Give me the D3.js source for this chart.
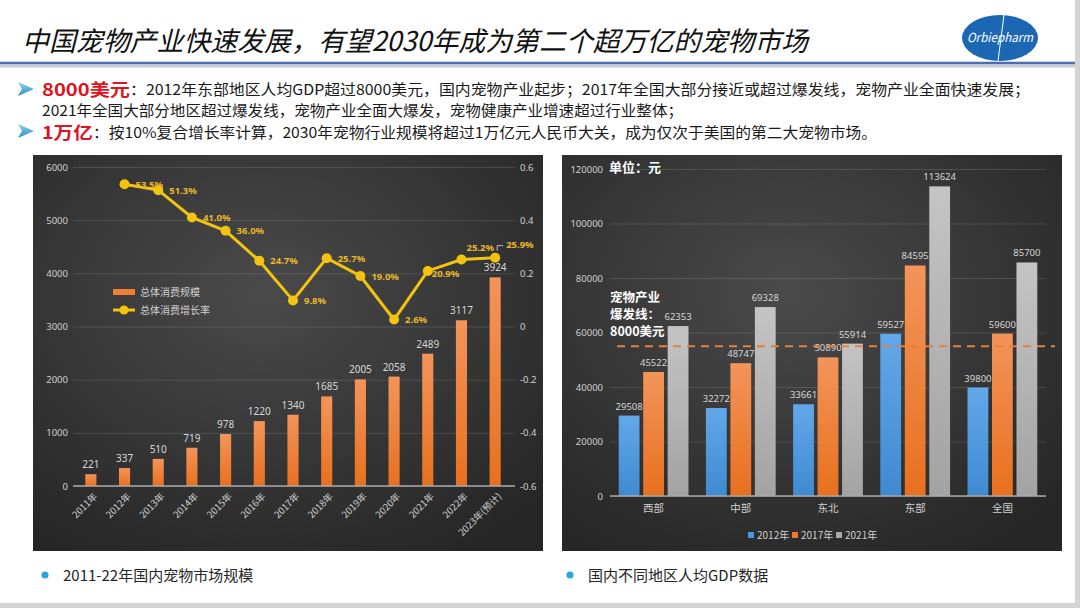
<!DOCTYPE html>
<html>
<head>
<meta charset="utf-8">
<script src="https://cdn.jsdelivr.net/npm/d3@7"></script>
<style>
body { margin: 0; background: #fff; }
text { font-family: "Noto Sans CJK SC", "Noto Sans", sans-serif; }
</style>
</head>
<body>
<div id="slide"></div>
<script>
width = 1080;
height = 608;

// left chart data: market size (亿元) and growth rate
var years = ["2011年","2012年","2013年","2014年","2015年","2016年","2017年","2018年","2019年","2020年","2021年","2022年","2023年(预计)"];
var marketSize = [221, 337, 510, 719, 978, 1220, 1340, 1685, 2005, 2058, 2489, 3117, 3924];
var growthRate = [null, 0.535, 0.513, 0.410, 0.360, 0.247, 0.098, 0.257, 0.190, 0.026, 0.209, 0.252, 0.259];
var sizeTicks = [0, 1000, 2000, 3000, 4000, 5000, 6000];
var rateTicks = [-0.6, -0.4, -0.2, 0, 0.2, 0.4, 0.6];

// right chart data: GDP per capita by region (元)
var regions = ["西部", "中部", "东北", "东部", "全国"];
var gdpYears = ["2012年", "2017年", "2021年"];
var gdp2012 = [29508, 32272, 33661, 59527, 39800];
var gdp2017 = [45522, 48747, 50890, 84595, 59600];
var gdp2021 = [62353, 69328, 55914, 113624, 85700];
var gdpTicks = [0, 20000, 40000, 60000, 80000, 100000, 120000];
var burstLine = 55000;

var svg = d3.select("#slide")
    .append("svg")
    .attr("width", width)
    .attr("height", height);

var defs = svg.append("defs");

// slide frame
svg.append("rect").attr("width", width).attr("height", height).attr("fill", "#d4d4d4");
svg.append("rect").attr("width", 1075).attr("height", 603).attr("fill", "#ffffff");

// gradients
function linGrad(id, top, bottom) {
    var g = defs.append("linearGradient").attr("id", id)
        .attr("x1", 0).attr("y1", 0).attr("x2", 0).attr("y2", 1);
    g.append("stop").attr("offset", "0%").attr("stop-color", top);
    g.append("stop").attr("offset", "100%").attr("stop-color", bottom);
}
linGrad("gOrange", "#f3945a", "#e8701f");
linGrad("gBlue", "#62a8ea", "#3f8ad0");
linGrad("gGray", "#c4c4c4", "#a3a3a3");
linGrad("gArrow", "#8fd3f0", "#2a8cc4");

var bg = defs.append("radialGradient").attr("id", "gPanel")
    .attr("cx", "45%").attr("cy", "35%").attr("r", "75%");
bg.append("stop").attr("offset", "0%").attr("stop-color", "#4a4a4a");
bg.append("stop").attr("offset", "100%").attr("stop-color", "#262626");

// ---------- header ----------
svg.append("text")
    .attr("x", 22).attr("y", 51)
    .attr("font-size", 27)
    .attr("font-style", "italic")
    .attr("fill", "#111")
    .attr("textLength", 786)
    .attr("lengthAdjust", "spacingAndGlyphs")
    .text("中国宠物产业快速发展，有望2030年成为第二个超万亿的宠物市场");

svg.append("line").attr("x1", 0).attr("x2", 1075).attr("y1", 66).attr("y2", 66)
    .attr("stroke", "#c8cbd2").attr("stroke-width", 3);
svg.append("line").attr("x1", 0).attr("x2", 1075).attr("y1", 63).attr("y2", 63)
    .attr("stroke", "#4a6db3").attr("stroke-width", 2.5);

// logo
var logo = svg.append("g").attr("transform", "translate(1000,38)");
logo.append("ellipse").attr("rx", 38).attr("ry", 23).attr("fill", "#1c67b4");
logo.append("line").attr("x1", 4).attr("y1", -23).attr("x2", -2).attr("y2", 23)
    .attr("stroke", "#ffffff").attr("stroke-width", 1);
logo.append("text").attr("x", 0).attr("y", 4)
    .attr("text-anchor", "middle")
    .attr("font-size", 12.5)
    .attr("font-style", "italic")
    .attr("fill", "#ffffff")
    .attr("textLength", 66)
    .attr("lengthAdjust", "spacingAndGlyphs")
    .text("Orbiepharm");

// bullet text
function arrow(cy) {
    svg.append("path")
        .attr("d", "M18," + (cy - 7) + " L34," + cy + " L18," + (cy + 7) + " L22," + cy + " Z")
        .attr("fill", "url(#gArrow)");
}
arrow(89);
arrow(131);

svg.append("text").attr("x", 42).attr("y", 96)
    .attr("font-size", 17).attr("font-weight", "bold").attr("fill", "#e0141e")
    .attr("textLength", 88).attr("lengthAdjust", "spacingAndGlyphs")
    .text("8000美元");
svg.append("text").attr("x", 130).attr("y", 95)
    .attr("font-size", 15).attr("fill", "#1a1a1a")
    .attr("textLength", 900).attr("lengthAdjust", "spacingAndGlyphs")
    .text("：2012年东部地区人均GDP超过8000美元，国内宠物产业起步；2017年全国大部分接近或超过爆发线，宠物产业全面快速发展；");
svg.append("text").attr("x", 42).attr("y", 116)
    .attr("font-size", 15).attr("fill", "#1a1a1a")
    .attr("textLength", 641).attr("lengthAdjust", "spacingAndGlyphs")
    .text("2021年全国大部分地区超过爆发线，宠物产业全面大爆发，宠物健康产业增速超过行业整体；");
svg.append("text").attr("x", 42).attr("y", 139)
    .attr("font-size", 17).attr("font-weight", "bold").attr("fill", "#e0141e")
    .attr("textLength", 51).attr("lengthAdjust", "spacingAndGlyphs")
    .text("1万亿");
svg.append("text").attr("x", 93).attr("y", 138)
    .attr("font-size", 15).attr("fill", "#1a1a1a")
    .attr("textLength", 784).attr("lengthAdjust", "spacingAndGlyphs")
    .text("：按10%复合增长率计算，2030年宠物行业规模将超过1万亿元人民币大关，成为仅次于美国的第二大宠物市场。");

// ---------- left chart ----------
svg.append("rect").attr("x", 33).attr("y", 155).attr("width", 510).attr("height", 396)
    .attr("fill", "url(#gPanel)");

var x = d3.scaleBand().domain(years).range([74, 512]).paddingInner(0.67).paddingOuter(0.335);
var ySize = d3.scaleLinear().domain([0, 6000]).range([486, 167]);
var yRate = d3.scaleLinear().domain([-0.6, 0.6]).range([486, 167]);

var left = svg.append("g");

left.append("g")
    .attr("transform", "translate(73,0)")
    .call(d3.axisLeft(ySize).tickValues(sizeTicks).tickSize(-442).tickPadding(5).tickFormat(d => String(d)))
    .call(g => g.select(".domain").remove())
    .call(g => g.selectAll("line").attr("stroke", "#ffffff").attr("stroke-opacity", 0.13))
    .call(g => g.selectAll("text").attr("fill", "#d0d0d0").attr("font-size", 9.5)
        .style("font-family", "'Noto Sans', sans-serif"));

left.append("g")
    .attr("transform", "translate(515,0)")
    .call(d3.axisRight(yRate).tickValues(rateTicks).tickSize(0).tickPadding(5).tickFormat(d => String(d)))
    .call(g => g.select(".domain").remove())
    .call(g => g.selectAll("text").attr("fill", "#d0d0d0").attr("font-size", 9.5)
        .style("font-family", "'Noto Sans', sans-serif"));

left.selectAll("rect.bar")
    .data(marketSize)
    .enter()
    .append("rect")
    .attr("class", "bar")
    .attr("x", (d, i) => x(years[i]))
    .attr("y", d => ySize(d))
    .attr("width", x.bandwidth())
    .attr("height", d => ySize(0) - ySize(d))
    .attr("fill", "url(#gOrange)");

left.append("line")
    .attr("x1", 73).attr("x2", 515).attr("y1", ySize(0)).attr("y2", ySize(0))
    .attr("stroke", "#a8a8a8").attr("stroke-width", 1.5);

left.selectAll("text.barlabel")
    .data(marketSize)
    .enter()
    .append("text")
    .attr("class", "barlabel")
    .attr("x", (d, i) => x(years[i]) + x.bandwidth() / 2)
    .attr("y", d => ySize(d) - 6)
    .attr("text-anchor", "middle")
    .attr("font-size", 10)
    .attr("fill", "#d6d6d6")
    .style("font-family", "'Noto Sans', sans-serif")
    .text(d => d);

left.selectAll("text.cat")
    .data(years)
    .enter()
    .append("text")
    .attr("class", "cat")
    .attr("text-anchor", "end")
    .attr("font-size", 9.5)
    .attr("fill", "#d0d0d0")
    .attr("transform", d => "translate(" + (x(d) + x.bandwidth() / 2 + 7) + ",497) rotate(-45)")
    .text(d => d);

// growth line
var cx = (d, i) => x(years[i]) + x.bandwidth() / 2;
var rateLine = d3.line()
    .defined(d => d != null)
    .x((d, i) => cx(d, i))
    .y(d => yRate(d));

left.append("path")
    .datum(growthRate)
    .attr("d", rateLine)
    .attr("fill", "none")
    .attr("stroke", "#f2c30f")
    .attr("stroke-width", 3);

var ratePts = growthRate.map((d, i) => ({ v: d, i: i })).filter(d => d.v != null);

left.selectAll("circle.pt")
    .data(ratePts)
    .enter()
    .append("circle")
    .attr("class", "pt")
    .attr("cx", d => cx(d.v, d.i))
    .attr("cy", d => yRate(d.v))
    .attr("r", 5)
    .attr("fill", "#f2c30f");

function labelOffset(i) {
    if (i == 11) return [5, -11];
    if (i == 12) return [11, -12];
    if (i == 10) return [4, 3];
    return [11, 1];
}

left.selectAll("text.rate")
    .data(ratePts)
    .enter()
    .append("text")
    .attr("class", "rate")
    .attr("x", d => cx(d.v, d.i) + labelOffset(d.i)[0])
    .attr("y", d => yRate(d.v) + labelOffset(d.i)[1])
    .attr("dominant-baseline", "middle")
    .attr("font-size", 9.5)
    .attr("font-weight", "bold")
    .attr("fill", "#e9b92a")
    .style("font-family", "'Noto Sans', sans-serif")
    .text(d => d3.format(".1%")(d.v));

// leader line for last label
var lastX = cx(growthRate[12], 12), lastY = yRate(growthRate[12]);
left.append("path")
    .attr("d", "M" + (lastX + 2) + "," + (lastY - 7) + " L" + (lastX + 2) + "," + (lastY - 12) + " L" + (lastX + 8) + "," + (lastY - 12))
    .attr("fill", "none").attr("stroke", "#bfbfbf").attr("stroke-width", 1);

// legend
var lg = left.append("g").attr("transform", "translate(113,289)");
lg.append("rect").attr("width", 22).attr("height", 6).attr("fill", "#ef7f35");
lg.append("text").attr("x", 27).attr("y", 7).attr("font-size", 10).attr("fill", "#d0d0d0").text("总体消费规模");
lg.append("line").attr("x1", 0).attr("x2", 22).attr("y1", 21).attr("y2", 21)
    .attr("stroke", "#f2c30f").attr("stroke-width", 3);
lg.append("circle").attr("cx", 11).attr("cy", 21).attr("r", 4.5).attr("fill", "#f2c30f");
lg.append("text").attr("x", 27).attr("y", 25).attr("font-size", 10).attr("fill", "#d0d0d0").text("总体消费增长率");

// ---------- right chart ----------
svg.append("rect").attr("x", 562).attr("y", 155).attr("width", 500).attr("height", 396)
    .attr("fill", "url(#gPanel)");

var right = svg.append("g");
var x0 = d3.scaleBand().domain(regions).range([610, 1046]).paddingInner(0.2).paddingOuter(0.1);
var x1 = d3.scaleBand().domain(gdpYears).range([0, x0.bandwidth()]).paddingInner(0.15);
var yGdp = d3.scaleLinear().domain([0, 120000]).range([496, 169]);
var gdpColor = d3.scaleOrdinal().domain(gdpYears).range(["url(#gBlue)", "url(#gOrange)", "url(#gGray)"]);
var gdpKey = d3.scaleOrdinal().domain(gdpYears).range(["#4a96de", "#ef7a2c", "#a9a9a9"]);

right.append("g")
    .attr("transform", "translate(610,0)")
    .call(d3.axisLeft(yGdp).tickValues(gdpTicks).tickSize(-436).tickPadding(7).tickFormat(d => String(d)))
    .call(g => g.select(".domain").remove())
    .call(g => g.selectAll("line").attr("stroke", "#ffffff").attr("stroke-opacity", 0.13))
    .call(g => g.selectAll("text").attr("fill", "#d0d0d0").attr("font-size", 9.5)
        .style("font-family", "'Noto Sans', sans-serif"));

var gdpSeries = [gdp2012, gdp2017, gdp2021];
var gdpRows = [];
regions.forEach(function(r, i) {
    gdpYears.forEach(function(yr, j) {
        gdpRows.push({ region: r, year: yr, value: gdpSeries[j][i] });
    });
});

right.selectAll("rect.gdp")
    .data(gdpRows)
    .enter()
    .append("rect")
    .attr("class", "gdp")
    .attr("x", d => x0(d.region) + x1(d.year))
    .attr("y", d => yGdp(d.value))
    .attr("width", x1.bandwidth())
    .attr("height", d => yGdp(0) - yGdp(d.value))
    .attr("fill", d => gdpColor(d.year));

right.append("line")
    .attr("x1", 610).attr("x2", 1046).attr("y1", yGdp(0)).attr("y2", yGdp(0))
    .attr("stroke", "#a8a8a8").attr("stroke-width", 1.5);

right.selectAll("text.gdplabel")
    .data(gdpRows)
    .enter()
    .append("text")
    .attr("class", "gdplabel")
    .attr("x", d => x0(d.region) + x1(d.year) + x1.bandwidth() / 2)
    .attr("y", d => yGdp(d.value) - 6)
    .attr("text-anchor", "middle")
    .attr("font-size", 9.5)
    .attr("fill", "#d6d6d6")
    .style("font-family", "'Noto Sans', sans-serif")
    .text(d => d.value);

// burst line
right.append("line")
    .attr("x1", 617).attr("x2", 1055)
    .attr("y1", yGdp(burstLine)).attr("y2", yGdp(burstLine))
    .attr("stroke", "#e0823f").attr("stroke-width", 2)
    .attr("stroke-dasharray", "8,6");

right.selectAll("text.region")
    .data(regions)
    .enter()
    .append("text")
    .attr("class", "region")
    .attr("x", d => x0(d) + x0.bandwidth() / 2)
    .attr("y", 512)
    .attr("text-anchor", "middle")
    .attr("font-size", 10.5)
    .attr("fill", "#d0d0d0")
    .text(d => d);

right.append("text").attr("x", 609).attr("y", 172)
    .attr("font-size", 13).attr("font-weight", "bold").attr("fill", "#ffffff").text("单位：元");

var note = ["宠物产业", "爆发线：", "8000美元"];
right.selectAll("text.note")
    .data(note)
    .enter()
    .append("text")
    .attr("class", "note")
    .attr("x", 610)
    .attr("y", (d, i) => 302 + i * 17)
    .attr("font-size", 12.5)
    .attr("font-weight", "bold")
    .attr("fill", "#ffffff")
    .text(d => d);

// legend
var legendX = d3.scalePoint().domain(gdpYears).range([748, 836]);
var rl = right.selectAll("g.rleg")
    .data(gdpYears)
    .enter()
    .append("g")
    .attr("class", "rleg")
    .attr("transform", d => "translate(" + legendX(d) + ",532)");
rl.append("rect").attr("width", 6).attr("height", 6).attr("fill", d => gdpKey(d));
rl.append("text").attr("x", 9).attr("y", 7).attr("font-size", 10).attr("fill", "#d0d0d0").text(d => d);

// ---------- captions ----------
var captions = ["2011-22年国内宠物市场规模", "国内不同地区人均GDP数据"];
var capX = d3.scalePoint().domain(captions).range([45, 570]);
var cap = svg.selectAll("g.cap")
    .data(captions)
    .enter()
    .append("g")
    .attr("class", "cap")
    .attr("transform", d => "translate(" + capX(d) + ",575)");
cap.append("circle").attr("r", 3.5).attr("fill", "#2aa3df");
cap.append("text").attr("x", 18).attr("y", 6).attr("font-size", 15).attr("fill", "#262626").text(d => d);
</script>
</body>
</html>
